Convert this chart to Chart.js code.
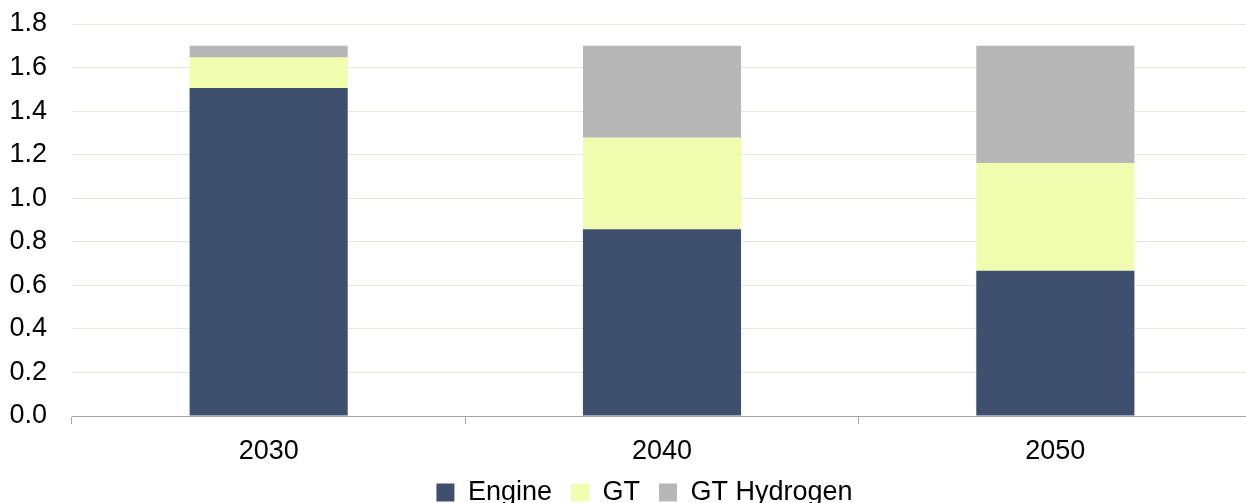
<!DOCTYPE html>
<html>
<head>
<meta charset="utf-8">
<script src="https://cdn.jsdelivr.net/npm/chart.js@4/dist/chart.umd.min.js"></script>
<style>
  html, body { margin: 0; padding: 0; background: #fff; overflow: hidden; }
  #wrap { position: relative; width: 1252px; height: 516px; }
</style>
</head>
<body>
<div id="wrap"><canvas id="chart"></canvas></div>
<script>
// catégories et séries
const years = ["2030", "2040", "2050"];
const engine = [1.506, 0.858, 0.667];
const gt = [0.140, 0.420, 0.495];
const gtHydrogen = [0.054, 0.422, 0.538];
const yTicks = [0, 0.2, 0.4, 0.6, 0.8, 1.0, 1.2, 1.4, 1.6, 1.8];

const police = "'Liberation Sans', Arial, sans-serif";

// décale la légende vers la droite (centrée sur le tracé comme l'original)
const decalageLegende = {
    id: "decalageLegende",
    afterLayout(chart) {
        if (chart.legend) {
            chart.legend.left += 37;
        }
    }
};

const ctx = document.getElementById("chart").getContext("2d");

new Chart(ctx, {
    type: "bar",
    data: {
        labels: years,
        datasets: [
            { label: "Engine", data: engine, backgroundColor: "#3f506f" },
            { label: "GT", data: gt, backgroundColor: "#f1fdaf" },
            { label: "GT Hydrogen", data: gtHydrogen, backgroundColor: "#b7b7b7" }
        ]
    },
    plugins: [decalageLegende],
    options: {
        responsive: true,
        maintainAspectRatio: false,
        animation: false,
        layout: { padding: { top: 24, left: 0, right: 0, bottom: 0 } },
        datasets: {
            bar: { categoryPercentage: 1.0, barPercentage: 0.402 }
        },
        plugins: {
            legend: {
                display: true,
                position: "bottom",
                labels: {
                    color: "#000",
                    font: { family: police, size: 27 },
                    boxWidth: 18,
                    boxHeight: 18,
                    padding: 19
                }
            },
            tooltip: { enabled: false }
        },
        scales: {
            x: {
                stacked: true,
                grid: {
                    drawOnChartArea: false,
                    drawTicks: true,
                    tickLength: 8,
                    color: "#a6a6a6"
                },
                border: { display: true, color: "#a6a6a6", width: 1 },
                ticks: {
                    color: "#000",
                    font: { family: police, size: 27 },
                    padding: 11,
                    maxRotation: 0
                },
                afterFit: function (scale) { scale.height = 44; }
            },
            y: {
                stacked: true,
                min: 0,
                max: 1.8,
                afterBuildTicks: function (scale) {
                    scale.ticks = yTicks.map(v => ({ value: v }));
                },
                grid: { color: "#e6e6df", drawTicks: false },
                border: { display: false },
                ticks: {
                    color: "#000",
                    font: { family: police, size: 27 },
                    padding: 25,
                    callback: v => Number(v).toFixed(1)
                },
                afterFit: function (scale) {
                    scale.width = 72;
                    scale.paddingTop = 0;
                }
            }
        }
    }
});
</script>
</body>
</html>
